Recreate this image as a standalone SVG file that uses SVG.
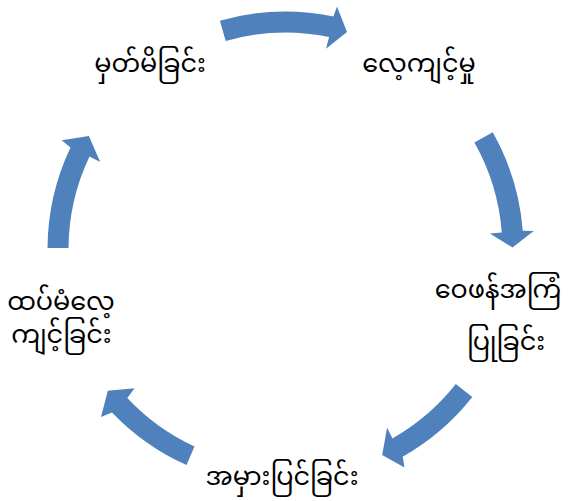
<svg xmlns="http://www.w3.org/2000/svg" width="569" height="501" viewBox="0 0 569 501">
<style>
.arr{fill:#4F81BD;stroke:none}
.t{font-family:"Noto Sans Myanmar","Myanmar Text","Padauk","Noto Sans","DejaVu Sans",sans-serif;font-size:25.5px;fill:#000;text-anchor:middle}
</style>
<rect width="569" height="501" fill="#fff"/>
<g id="connectors">
<path class="arr" d="M219.9,20.7 A238,238 0 0 1 333.4,16.4 L337,6.5 L347,32 L326,48.8 L329.1,36.9 A217,217 0 0 0 225.7,40.9 Z"/>
<path class="arr" d="M492.7,132.3 A238,238 0 0 1 522.8,230.8 L533.7,231 L512.5,247.5 L489.9,233.4 L501.8,232.5 A217,217 0 0 0 474.4,142.6 Z"/>
<path class="arr" d="M472.3,397 A238,238 0 0 1 402.7,456.7 L404.5,467.5 L382.2,454.9 L387.1,427.6 L392.4,438.4 A217,217 0 0 0 455.8,384 Z"/>
<path class="arr" d="M186.5,465 A238,238 0 0 1 112,412.4 L101,417 L107.8,390.8 L134.6,388.3 L127.3,398 A217,217 0 0 0 194.5,446.5 Z"/>
<path class="arr" d="M47.5,248 A238,238 0 0 1 70.5,147.4 L61.7,140.3 L88.9,136 L100.2,161.9 L89.5,156.4 A217,217 0 0 0 68.5,248 Z"/>
</g>
<g id="node1"><text class="t" x="150" y="72">မှတ်မိခြင်း</text></g>
<g id="node2"><text class="t" x="419" y="72">လေ့ကျင့်မှု</text></g>
<g id="node3"><text class="t" x="498" y="298">ဝေဖန်အကြံ</text><text class="t" x="506" y="350">ပြုခြင်း</text></g>
<g id="node4"><text class="t" x="282" y="485">အမှားပြင်ခြင်း</text></g>
<g id="node5"><text class="t" x="61" y="310">ထပ်မံလေ့</text><text class="t" x="61.5" y="343">ကျင့်ခြင်း</text></g>
</svg>
